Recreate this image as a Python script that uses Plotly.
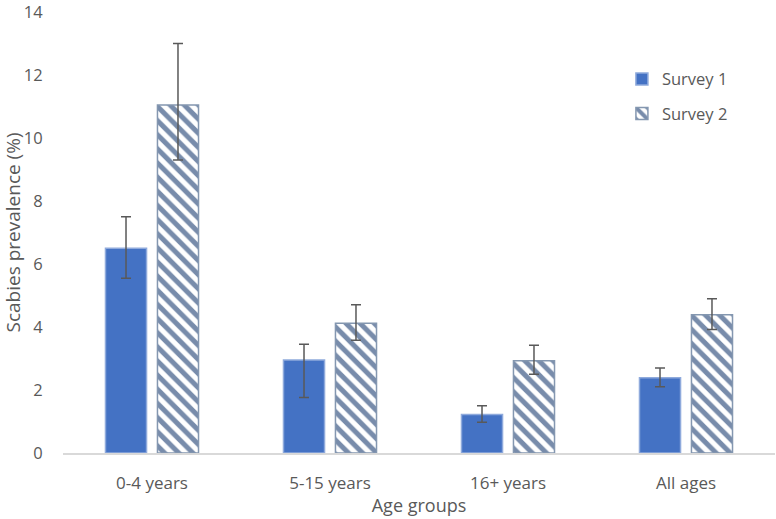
import plotly.graph_objects as go

categories = ["0-4 years", "5-15 years", "16+ years", "All ages"]
survey1 = [6.5, 2.95, 1.22, 2.39]
survey1_hi = [7.5, 3.45, 1.5, 2.7]
survey1_lo = [5.55, 1.76, 0.98, 2.1]
survey2 = [11.05, 4.12, 2.93, 4.39]
survey2_hi = [13.0, 4.71, 3.42, 4.9]
survey2_lo = [9.3, 3.58, 2.5, 3.92]
y_ticks = [0, 2, 4, 6, 8, 10, 12, 14]

grey = "#595959"

def err(vals, hi, lo):
    return dict(type="data", symmetric=False,
                array=[h - v for h, v in zip(hi, vals)],
                arrayminus=[v - l for v, l in zip(vals, lo)],
                color=grey, thickness=1.5, width=5)

fig = go.Figure()
fig.add_trace(go.Bar(
    x=categories, y=survey1, name="Survey 1", legendgroup="a",
    marker=dict(color="#4472C4", line=dict(color="#8FAADC", width=1.5)),
    error_y=err(survey1, survey1_hi, survey1_lo),
))
fig.add_trace(go.Bar(
    x=categories, y=survey2, name="Survey 2", legendgroup="b",
    marker=dict(color="white", line=dict(color="#8497B0", width=1.5),
                pattern=dict(shape="\\", fgcolor="#788CAB", bgcolor="white",
                             size=10, solidity=0.5, fgopacity=1)),
    error_y=err(survey2, survey2_hi, survey2_lo),
))

fig.update_layout(
    width=776, height=519,
    margin=dict(l=63, r=1, t=12, b=66, autoexpand=False),
    plot_bgcolor="white", paper_bgcolor="white",
    font=dict(family="Open Sans, Noto Sans, sans-serif", color=grey, size=16),
    barmode="group", bargap=0.416, bargroupgap=0.21,
    legend=dict(x=0.785, y=0.887, xanchor="left", yanchor="top",
                font=dict(size=16.5, color=grey), tracegroupgap=10,
                itemwidth=30, bgcolor="rgba(0,0,0,0)"),
    xaxis=dict(showline=True, linecolor="#D9D9D9", linewidth=1.5,
               ticks="outside", ticklen=0, ticklabelstandoff=14,
               tickfont=dict(size=17),
               title=dict(text="Age groups", font=dict(size=18), standoff=6),
               showgrid=False, automargin=False),
    yaxis=dict(range=[0, 14], tickvals=y_ticks, showgrid=False,
               zeroline=False, showline=False, automargin=False,
               ticks="outside", ticklen=0, ticklabelstandoff=16,
               ticklabeloverflow="allow",
               tickfont=dict(size=16.5),
               title=dict(text="Scabies prevalence (%)", font=dict(size=19), standoff=7)),
)

fig.write_html("out.html", config={"displayModeBar": False},
               post_script="document.body.style.margin='0px';")
